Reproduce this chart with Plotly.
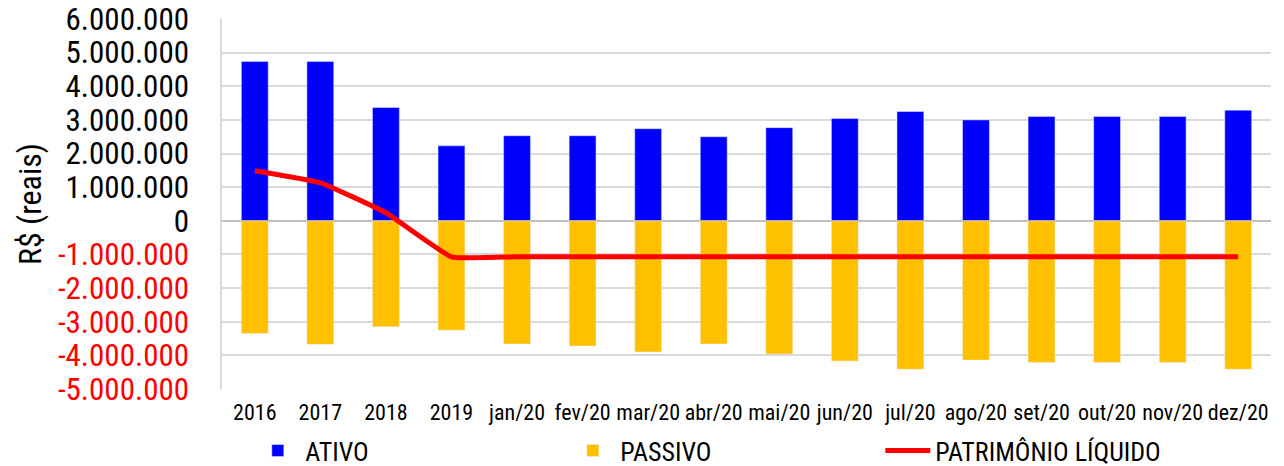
import plotly.graph_objects as go

categories = ["2016", "2017", "2018", "2019", "jan/20", "fev/20", "mar/20", "abr/20",
              "mai/20", "jun/20", "jul/20", "ago/20", "set/20", "out/20", "nov/20", "dez/20"]
ativo = [4740000, 4740000, 3370000, 2230000, 2530000, 2530000, 2740000, 2500000,
         2770000, 3040000, 3250000, 3000000, 3100000, 3100000, 3100000, 3290000]
passivo = [-3350000, -3670000, -3150000, -3250000, -3660000, -3720000, -3900000, -3660000,
           -3960000, -4170000, -4410000, -4140000, -4210000, -4210000, -4210000, -4410000]
patrimonio = [1490000, 1130000, 240000, -1070000, -1070000, -1070000, -1070000, -1070000,
              -1070000, -1070000, -1070000, -1070000, -1070000, -1070000, -1070000, -1070000]
tick_vals = [6000000, 5000000, 4000000, 3000000, 2000000, 1000000, 0,
             -1000000, -2000000, -3000000, -4000000, -5000000]
tick_labels = ["6.000.000", "5.000.000", "4.000.000", "3.000.000", "2.000.000", "1.000.000", "0",
               "-1.000.000", "-2.000.000", "-3.000.000", "-4.000.000", "-5.000.000"]

tick_text = [t if v >= 0 else "<span style='color:#FF0000'>" + t + "</span>"
             for v, t in zip(tick_vals, tick_labels)]

COND = "Roboto Condensed, Liberation Sans, sans-serif"

fig = go.Figure()
fig.add_trace(go.Bar(x=categories, y=ativo, name="ATIVO", marker_color="#0000FF"))
fig.add_trace(go.Bar(x=categories, y=passivo, name="PASSIVO", marker_color="#FFC000"))
fig.add_trace(go.Scatter(x=categories, y=patrimonio, name="PATRIMÔNIO LÍQUIDO", mode="lines",
                         line=dict(color="#FF0000", width=5, shape="spline", smoothing=0.35)))

fig.update_layout(
    width=1284, height=466,
    margin=dict(l=222, r=13, t=19, b=77, autoexpand=False),
    paper_bgcolor="white", plot_bgcolor="white",
    barmode="relative", bargap=0.59,
    font=dict(family=COND, color="black"),
    showlegend=True,
    legend=dict(orientation="h", x=0.027, y=-0.103, xanchor="left", yanchor="top",
                font=dict(size=26, family=COND), entrywidth=255, entrywidthmode="pixels",
                itemwidth=45, tracegroupgap=0),
    xaxis=dict(type="category", categoryarray=categories, range=[-0.5, 15.5],
               showgrid=False, showline=False, ticks="", tickfont=dict(size=22, family=COND),
               tickangle=0, ticklabelstandoff=8, automargin=False),
    xaxis2=dict(type="category", categoryarray=categories, range=[-0.5, 15.5], overlaying="x",
                anchor="free", position=5 / 11, showgrid=False, showline=False,
                ticks="outside", tickson="boundaries", ticklen=5, tickcolor="#BFBFBF",
                showticklabels=False),
    yaxis=dict(range=[-5000000, 6000000], tickvals=tick_vals, ticktext=tick_text,
               showgrid=True, gridcolor="#D9D9D9", gridwidth=1.5,
               zeroline=True, zerolinecolor="#BFBFBF", zerolinewidth=2,
               showline=True, linecolor="#D9D9D9", linewidth=1.5, automargin=False,
               tickfont=dict(size=31, family=COND, color="black"), ticklabelstandoff=25,
               title=dict(text="R$ (reais)", font=dict(size=32, family=COND),
                          standoff=7)),
)

fig.write_html("out.html", config={"displayModeBar": False},
               post_script="document.body.style.margin='0';")
